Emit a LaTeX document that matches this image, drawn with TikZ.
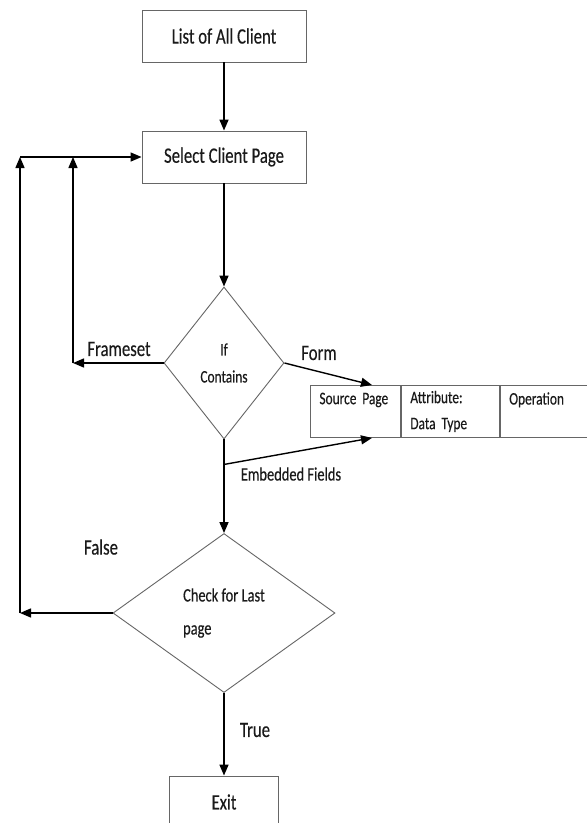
\documentclass[tikz,border=0pt]{standalone}
\usepackage{fontspec}
\setmainfont[FakeStretch=0.76, FakeBold=0.3]{Carlito}
\usetikzlibrary{arrows.meta, positioning, shapes.geometric, calc}
\definecolor{boxline}{HTML}{666666}
\definecolor{inktext}{HTML}{1A1A1A}

\begin{document}
\begin{tikzpicture}[x=1pt, y=-1pt,
  procbox/.style={draw=boxline, line width=0.9pt, text=inktext, minimum width=164pt, minimum height=52pt, inner sep=0pt, align=center, font=\fontsize{22}{26}\selectfont},
  decision/.style={diamond, draw=boxline, line width=0.9pt, text=inktext, inner sep=0pt, align=center},
  cellbox/.style={draw=boxline, line width=0.9pt, text=inktext, anchor=north west, minimum height=52pt, inner xsep=9pt, inner ysep=0pt, align=left, font=\fontsize{17.6}{26}\selectfont},
  arrow/.style={-{Triangle[length=11pt,width=9pt]}, line width=1.4pt},
  branch/.style={text=inktext, inner sep=0pt, font=\fontsize{22}{26}\selectfont}
]
\useasboundingbox (0,0) rectangle (587,823);
\fill[white] (0,0) rectangle (587,823);

% boxes and decisions
\node[procbox] (listall) at (224,36) {List of All Client};
\node[procbox] (select) at (224,157) {Select Client Page};
\node[decision, minimum width=120pt, minimum height=152pt, font=\fontsize{17.6}{27}\selectfont] (contains) at (224,363) {If\\Contains};
\node[decision, minimum width=222pt, minimum height=159pt, align=left, font=\fontsize{19}{33}\selectfont] (lastpage) at (224,613) {Check for Last\\page};
\node[procbox, minimum width=109pt] (exit) at (224,802) {Exit};

% table of the form
\node[cellbox, text width=72pt] (srccell) at (310,385) {Source Page\\\mbox{}};
\node[cellbox, text width=80pt, right=0pt of srccell] (attrcell) {Attribute:\\Data Type};
\node[cellbox, text width=78pt, right=0pt of attrcell] (opcell) {Operation\\\mbox{}};

% loop corners
\coordinate (fsbend) at (73,363);
\coordinate (fstop) at (73,157);
\coordinate (loopbend) at (20,613);
\coordinate (looptop) at (20,157);

\draw[arrow] (listall) -- (select);
\draw[arrow] (select) -- (contains);
\draw[arrow] (contains.west) -- (fsbend);
\draw[arrow] (fsbend) -- (fstop);
\draw[arrow] (looptop) -- (select.west);
\draw[arrow] (contains.east) -- ([xshift=62pt]srccell.north west);
\draw[arrow] (contains) -- (lastpage);
\draw[arrow] ([yshift=-25pt]contains.south) -- ([xshift=62pt]srccell.south west);
\draw[arrow] (lastpage.west) -- (loopbend);
\draw[arrow] (loopbend) -- (looptop);
\draw[arrow] (lastpage) -- (exit);

% branch labels
\node[branch] (fslabel) at (119,349) {Frameset};
\node[branch] (formlabel) at (319,353) {Form};
\node[branch, font=\fontsize{19}{22}\selectfont] (embedlabel) at (291,474) {Embedded Fields};
\node[branch] (falselabel) at (101,547) {False};
\node[branch] (truelabel) at (255,730) {True};
\end{tikzpicture}
\end{document}
